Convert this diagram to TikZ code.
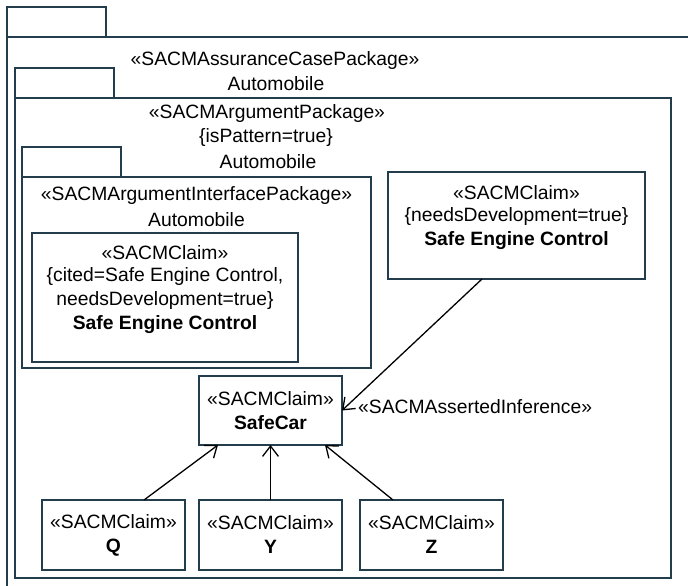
\documentclass[tikz,border=0pt]{standalone}
\usepackage{fontspec}
\setmainfont{Liberation Sans}
\usetikzlibrary{arrows.meta}
\definecolor{umlline}{HTML}{233D4D}
\begin{document}
\begin{tikzpicture}[x=1pt,y=1pt,
  every node/.style={font=\fontsize{19.3}{24}\selectfont},
  box/.style={draw=umlline, line width=1.4pt, rectangle, inner sep=0pt, outer sep=0pt, fill=none},
  txt/.style={inner sep=0pt, align=center},
  arr/.style={draw=black, line width=1.3pt, -{Straight Barb[angle=75:13pt, line width=1.3pt]}}
]
\useasboundingbox (0,0) rectangle (688,-586);
\clip (0,0) rectangle (688,-586);
\fill[white] (0,0) rectangle (688,-586);

% outer assurance case package
\node[box, minimum width=99pt, minimum height=30pt] (outerTab) at (56.5,-22) {};
\node[box, minimum width=713pt, minimum height=583pt] (outerBody) at (363.5,-328.5) {};
\node[txt] (outerStereo) at (275,-61) {«SACMAssuranceCasePackage»};
\node[txt] (outerName) at (276,-84) {Automobile};

% argument package
\node[box, minimum width=99pt, minimum height=30pt] (argTab) at (64.5,-83) {};
\node[box, minimum width=656pt, minimum height=480pt] (argBody) at (343,-338) {};
\node[txt] (argStereo) at (267,-114) {«SACMArgumentPackage»};
\node[txt] (argProp) at (266,-138) {\{isPattern=true\}};
\node[txt] (argName) at (268,-162) {Automobile};

% argument interface package
\node[box, minimum width=99pt, minimum height=30pt] (ifTab) at (71.5,-162) {};
\node[box, minimum width=349pt, minimum height=191pt] (ifBody) at (196.5,-272.5) {};
\node[txt] (ifStereo) at (196.5,-196) {«SACMArgumentInterfacePackage»};
\node[txt] (ifName) at (196.5,-220) {Automobile};

% cited claim
\node[box, minimum width=266pt, minimum height=129pt] (cited) at (165,-297.5) {};
\node[txt] at (165,-253) {«SACMClaim»};
\node[txt] at (165,-277) {\{cited=Safe Engine Control,};
\node[txt] at (165,-301) {needsDevelopment=true\}};
\node[txt] at (165,-325) {\textbf{Safe Engine Control}};

% safe engine control claim
\node[box, minimum width=257pt, minimum height=107pt] (sec) at (516.5,-225.5) {};
\node[txt] at (516.5,-193) {«SACMClaim»};
\node[txt] at (516.5,-217) {\{needsDevelopment=true\}};
\node[txt] at (516.5,-241) {\textbf{Safe Engine Control}};

% SafeCar and sub-claims
\node[box, minimum width=143pt, minimum height=69pt, txt] (safecar) at (270.5,-410.5) {«SACMClaim»\\\textbf{SafeCar}};
\node[box, minimum width=143pt, minimum height=70pt, txt] (q) at (113.5,-535) {«SACMClaim»\\\textbf{Q}};
\node[box, minimum width=143pt, minimum height=70pt, txt] (y) at (270.5,-535) {«SACMClaim»\\\textbf{Y}};
\node[box, minimum width=143pt, minimum height=70pt, txt] (z) at (431.5,-535) {«SACMClaim»\\\textbf{Z}};

% connectors
\draw[arr] ([xshift=-34.5pt]sec.south) -- (safecar.east);
\node[txt, anchor=west] (inflabel) at (358,-407) {«SACMAssertedInference»};
\draw[arr] ([xshift=30.5pt]q.north) -- ([xshift=-52.5pt]safecar.south);
\draw[arr] (y.north) -- (safecar.south);
\draw[arr] ([xshift=-38.5pt]z.north) -- ([xshift=54.5pt]safecar.south);
\end{tikzpicture}
\end{document}
